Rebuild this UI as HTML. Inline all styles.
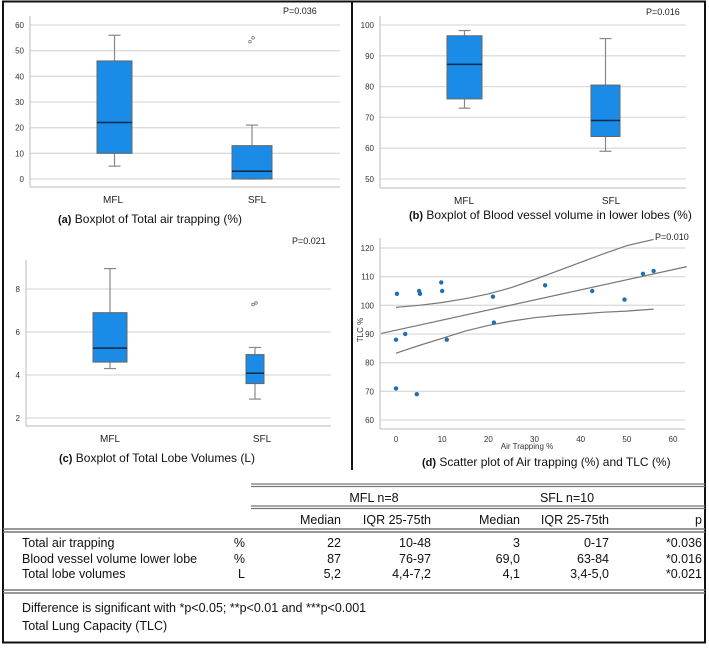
<!DOCTYPE html>
<html><head><meta charset="utf-8"><style>
body{margin:0;background:#fff;}
svg text{font-family:"Liberation Sans",Arial,sans-serif;}
.tb{font-family:"Liberation Sans",sans-serif;font-size:12.5px;fill:#111;}
</style></head><body>
<svg id="fig" width="709" height="645" viewBox="0 0 709 645" xmlns="http://www.w3.org/2000/svg">
<rect x="3" y="1.5" width="702" height="641" fill="none" stroke="#111" stroke-width="2"/>
<line x1="352" y1="1" x2="352" y2="470" stroke="#111" stroke-width="2"/>
<g id="charts"></g>
<g id="table">
<line x1="251" y1="484" x2="705" y2="484" stroke="#777" stroke-width="1.3"/><line x1="251" y1="486.5" x2="705" y2="486.5" stroke="#777" stroke-width="1.3"/>
<text class="tb" x="374" y="502" text-anchor="middle">MFL n=8</text>
<text class="tb" x="567" y="502" text-anchor="middle">SFL n=10</text>
<line x1="251" y1="506" x2="705" y2="506" stroke="#777" stroke-width="1.3"/><line x1="251" y1="508.5" x2="705" y2="508.5" stroke="#777" stroke-width="1.3"/>
<text class="tb" x="341" y="524" text-anchor="end">Median</text>
<text class="tb" x="431" y="524" text-anchor="end">IQR 25-75th</text>
<text class="tb" x="520" y="524" text-anchor="end">Median</text>
<text class="tb" x="609" y="524" text-anchor="end">IQR 25-75th</text>
<text class="tb" x="702" y="524" text-anchor="end">p</text>
<line x1="3" y1="529" x2="705" y2="529" stroke="#777" stroke-width="1.5"/><line x1="3" y1="532" x2="705" y2="532" stroke="#777" stroke-width="1.5"/>
<g>
<text class="tb" x="22" y="547">Total air trapping</text><text class="tb" x="245" y="547" text-anchor="end">%</text>
<text class="tb" x="341" y="547" text-anchor="end">22</text><text class="tb" x="431" y="547" text-anchor="end">10-48</text>
<text class="tb" x="520" y="547" text-anchor="end">3</text><text class="tb" x="609" y="547" text-anchor="end">0-17</text>
<text class="tb" x="702" y="547" text-anchor="end">*0.036</text></g>
<g>
<text class="tb" x="22" y="563">Blood vessel volume lower lobe</text><text class="tb" x="245" y="563" text-anchor="end">%</text>
<text class="tb" x="341" y="563" text-anchor="end">87</text><text class="tb" x="431" y="563" text-anchor="end">76-97</text>
<text class="tb" x="520" y="563" text-anchor="end">69,0</text><text class="tb" x="609" y="563" text-anchor="end">63-84</text>
<text class="tb" x="702" y="563" text-anchor="end">*0.016</text></g>
<g>
<text class="tb" x="22" y="578">Total lobe volumes</text><text class="tb" x="245" y="578" text-anchor="end">L</text>
<text class="tb" x="341" y="578" text-anchor="end">5,2</text><text class="tb" x="431" y="578" text-anchor="end">4,4-7,2</text>
<text class="tb" x="520" y="578" text-anchor="end">4,1</text><text class="tb" x="609" y="578" text-anchor="end">3,4-5,0</text>
<text class="tb" x="702" y="578" text-anchor="end">*0.021</text></g>
<line x1="3" y1="590" x2="705" y2="590" stroke="#777" stroke-width="1.5"/><line x1="3" y1="593" x2="705" y2="593" stroke="#777" stroke-width="1.5"/>
<text class="tb" x="22" y="612">Difference is significant with *p&lt;0.05; **p&lt;0.01 and ***p&lt;0.001</text>
<text class="tb" x="22" y="630">Total Lung Capacity (TLC)</text>
</g>
</svg>
<script>
// Panel (a) data
const catsA = ["MFL","SFL"];
const boxA = [[5,10,22,46,56],[0,0,3,13,21]];
const outA = [[],[53.5,55]];
const ticksA = [0,10,20,30,40,50,60];
// Panel (b)
const catsB = ["MFL","SFL"];
const boxB = [[73,76,87.2,96.5,98.2],[59,63.8,69,80.5,95.6]];
const outB = [[],[]];
const ticksB = [50,60,70,80,90,100];
// Panel (c)
const catsC = ["MFL","SFL"];
const boxC = [[4.3,4.6,5.25,6.9,8.95],[2.88,3.6,4.08,4.95,5.28]];
const outC = [[],[7.28,7.35]];
const ticksC = [2,4,6,8];
// Panel (d)
const airX = [0.2,0,2,0,4.5,5,5.2,9.8,10,11,21,21.2,32.3,42.5,49.5,53.5,55.8];
const tlcY = [104,88,90,71,69,105,104,108,105,88,103,94,107,105,102,111,112];
const ticksDX = [0,10,20,30,40,50,60];
const ticksDY = [60,70,80,90,100,110,120];
const fitX = [-3.2,63];
const fitY = [90.2,113.5];
const ciX = [0,5,10,15,20,25,30,35,40,45,50,55.8];
const ciUp = [99.3,100,101,102.3,104,106.2,109,112,115,118,120.8,123];
const ciLo = [83.3,86,88.5,91,93,94.5,95.7,96.5,97,97.6,98,98.7];

const NS="http://www.w3.org/2000/svg";
const root=document.getElementById('charts');
function mk(tag,attrs,parent){const e=document.createElementNS(NS,tag);for(const k in attrs)e.setAttribute(k,attrs[k]);(parent||root).appendChild(e);return e;}
function txt(s,attrs,parent){const e=mk('text',attrs,parent);e.textContent=s;return e;}

function boxPanel(cfg){
  const g=mk('g',{});
  
  
  const y=v=>cfg.y0+(v-cfg.v0)*(cfg.y1-cfg.y0)/(cfg.v1-cfg.v0);
  cfg.ticks.forEach(t=>{
    const l=mk('line',{x1:cfg.ax,x2:cfg.right,y1:y(t),y2:y(t),stroke:'#dcdcdc','stroke-width':1.3},g);
    
    
    const tl=txt(String(t),{x:cfg.ax-6,y:y(t)+3,'text-anchor':'end','font-size':8,fill:'#333'},g);
    
    
  });
  mk('line',{x1:cfg.ax,x2:cfg.ax,y1:cfg.top,y2:cfg.base,stroke:'#bbb'},g);
  mk('line',{x1:cfg.ax,x2:cfg.right,y1:cfg.base,y2:cfg.base,stroke:'#bbb'},g);
  cfg.boxes.forEach((b,i)=>{
    const [x0,x1]=cfg.bx[i];const cx=(x0+x1)/2;
    const w=mk('line',{x1:cx,x2:cx,y1:y(b[0]),y2:y(b[4]),stroke:'#888','stroke-width':1.2},g);
    
    
    mk('line',{x1:cx-6,x2:cx+6,y1:y(b[0]),y2:y(b[0]),stroke:'#888','stroke-width':1.2},g);
    mk('line',{x1:cx-6,x2:cx+6,y1:y(b[4]),y2:y(b[4]),stroke:'#888','stroke-width':1.2},g);
    const r=mk('rect',{x:x0,y:y(b[3]),width:x1-x0,height:y(b[1])-y(b[3]),fill:'#1a8be6',stroke:'#666','stroke-width':1},g);
    
    
    mk('line',{x1:x0,x2:x1,y1:y(b[2]),y2:y(b[2]),stroke:'#0b2a44','stroke-width':1.5},g);
    cfg.outs[i].forEach((o,k)=>{
      const c=mk('circle',{cx:cx-2+k*3,cy:y(o),r:1.3,fill:'none',stroke:'#777','stroke-width':0.8},g);
      
      
    });
    const cl=txt(cfg.cats[i],{x:cfg.cl[i],y:cfg.base+16,'text-anchor':'middle','font-size':10,fill:'#222'},g);
    
    
  });
  const p=txt(cfg.p,{x:cfg.px,y:cfg.py,'font-size':9,fill:'#222'},g);
  
  
  const t=mk('text',{x:cfg.tx,y:cfg.ty,'font-size':12,fill:'#111'},g);
  
  
  t.innerHTML='<tspan font-weight="bold" font-size="11">'+cfg.lab+'</tspan> '+cfg.title;
}

boxPanel({name:'boxplot-air-trapping',cats:catsA,boxes:boxA,outs:outA,ticks:ticksA,v0:0,v1:60,y0:179,y1:25,ax:30,right:340,top:16,base:187,
  bx:[[97,132],[232,272]],cl:[113,257],p:'P=0.036',px:283,py:14,tx:58,ty:223,lab:'(a)',title:'Boxplot of Total air trapping (%)'});
boxPanel({name:'boxplot-blood-vessel',cats:catsB,boxes:boxB,outs:outB,ticks:ticksB,v0:50,v1:100,y0:179,y1:25,ax:380,right:686,top:16,base:188,
  bx:[[447,482],[591,620]],cl:[464,611],p:'P=0.016',px:646,py:15,tx:409,ty:219,lab:'(b)',title:'Boxplot of Blood vessel volume in lower lobes (%)'});
boxPanel({name:'boxplot-lobe-volumes',cats:catsC,boxes:boxC,outs:outC,ticks:ticksC,v0:2,v1:8,y0:418,y1:289,ax:26,right:331,top:260,base:426,
  bx:[[93,127],[246,264]],cl:[110,262],p:'P=0.021',px:292,py:244,tx:59,ty:462,lab:'(c)',title:'Boxplot of Total Lobe Volumes (L)'});

// Scatter panel
(function(){
  const g=mk('g',{});
  
  
  const X=v=>396+v*(673-396)/60, Y=v=>420+(v-60)*(248-420)/60;
  ticksDY.forEach(t=>{
    const l=mk('line',{x1:380,x2:685,y1:Y(t),y2:Y(t),stroke:'#dcdcdc','stroke-width':1.3},g);
    
    
    const tl=txt(String(t),{x:374,y:Y(t)+3,'text-anchor':'end','font-size':8,fill:'#333'},g);
    
    
  });
  ticksDX.forEach(t=>{
    const tl=txt(String(t),{x:X(t),y:442,'text-anchor':'middle','font-size':8,fill:'#333'},g);
    
    
  });
  mk('line',{x1:380,x2:380,y1:238,y2:429,stroke:'#bbb'},g);
  mk('line',{x1:380,x2:685,y1:429,y2:429,stroke:'#bbb'},g);
  const xt=txt('Air Trapping %',{x:527,y:449,'text-anchor':'middle','font-size':8,fill:'#333'},g);
  
  
  const yt=txt('TLC %',{x:0,y:0,'text-anchor':'middle','font-size':8,fill:'#333',transform:'translate(363,330) rotate(-90)'},g);
  
  
  const fl=mk('line',{x1:X(fitX[0]),y1:Y(fitY[0]),x2:X(fitX[1]),y2:Y(fitY[1]),stroke:'#777','stroke-width':1.2},g);
  
  
  [ciUp,ciLo].forEach((arr,j)=>{
    const d=ciX.map((x,i)=>(i?'L':'M')+X(x).toFixed(1)+' '+Y(arr[i]).toFixed(1)).join(' ');
    const pth=mk('path',{d:d,fill:'none',stroke:'#777','stroke-width':1.2},g);
    
    
  });
  airX.forEach((x,i)=>{
    const c=mk('circle',{cx:X(x),cy:Y(tlcY[i]),r:2.2,fill:'#1f6fb4'},g);
    
    
  });
  const p=txt('P=0.010',{x:655,y:240,'font-size':9,fill:'#222'},g);
  
  
  const t=mk('text',{x:422,y:466,'font-size':12,fill:'#111'},g);
  
  
  t.innerHTML='<tspan font-weight="bold" font-size="11">(d)</tspan> Scatter plot of Air trapping (%) and TLC (%)';
})();
</script>
</body></html>
